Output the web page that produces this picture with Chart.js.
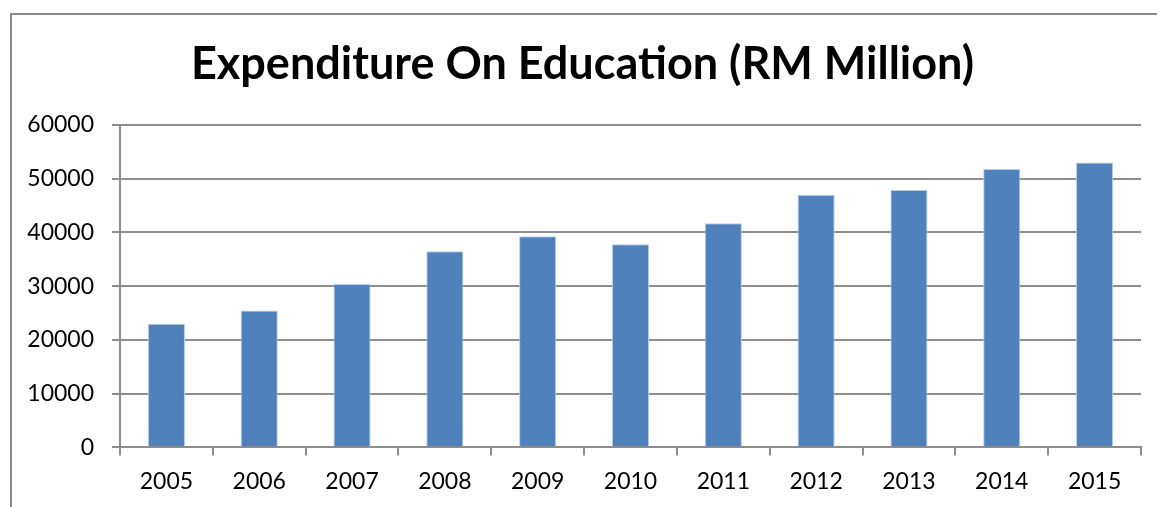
<!DOCTYPE html>
<html>
<head>
<meta charset="utf-8">
<script src="https://cdn.jsdelivr.net/npm/chart.js@4"></script>
<style>
  html, body { margin: 0; padding: 0; background: #fff; overflow: hidden; }
  #wrap { position: relative; width: 1157px; height: 507px; }
  #frame { position: absolute; left: 10px; top: 13px; width: 1300px; height: 700px;
           border-top: 2px solid #8c8c8c; border-left: 2px solid #8c8c8c; pointer-events: none; }
  canvas { position: absolute; left: 0; top: 0; }
</style>
</head>
<body>
<div id="wrap">
  <canvas id="myChart" width="1157" height="507"></canvas>
  <div id="frame"></div>
</div>
<script>
// Expenditure on education, RM million
const years = ['2005', '2006', '2007', '2008', '2009', '2010', '2011', '2012', '2013', '2014', '2015'];
const spending = [23000, 25500, 30400, 36500, 39300, 37800, 41700, 47000, 47900, 51800, 53000];
const yTicks = [0, 10000, 20000, 30000, 40000, 50000, 60000];

const gridGray = '#8e8e8e';
const tickFont = { family: 'Lato', size: 23 };

function createConfig(){
  let config = {
    type: 'bar',
    data: {
      labels: years,
      datasets: [{
        label: 'Expenditure',
        data: spending,
        backgroundColor: '#4f81bd',
        borderColor: '#b9cde5',
        borderWidth: { left: 1, right: 1, top: 1, bottom: 0 },
        borderSkipped: 'bottom',
        barPercentage: 0.4,
        categoryPercentage: 1.0
      }]
    },
    options: {
      responsive: false,
      animation: false,
      layout: { padding: { left: 24, right: 16, top: 14, bottom: 0 } },
      plugins: {
        legend: { display: false },
        tooltip: { enabled: false },
        title: {
          display: true,
          text: 'Expenditure On Education (RM Million)',
          color: '#000',
          font: { family: 'Lato', size: 45, weight: 'bold' },
          padding: { top: 23, bottom: 34 }
        }
      },
      scales: {
        x: {
          offset: true,
          border: { color: gridGray, width: 2 },
          grid: { offset: true, drawOnChartArea: false, drawTicks: true, tickLength: 8, color: gridGray, lineWidth: 2 },
          ticks: { color: '#000', font: tickFont, padding: 12, maxRotation: 0 }
        },
        y: {
          min: 0,
          max: 60000,
          afterBuildTicks: (axis) => { axis.ticks = yTicks.map(v => ({ value: v })); },
          afterFit: (axis) => { axis.width = 96; },
          border: { color: gridGray, width: 2 },
          grid: { drawTicks: true, tickLength: 8, color: gridGray, lineWidth: 2 },
          ticks: { color: '#000', font: tickFont, padding: 18, callback: (v) => String(v) }
        }
      }
    }
  };
  return config;
}

window.addEventListener('load', () => {
  let ctx = document.getElementById('myChart').getContext('2d');
  new Chart(ctx, createConfig());
});
</script>
</body>
</html>
